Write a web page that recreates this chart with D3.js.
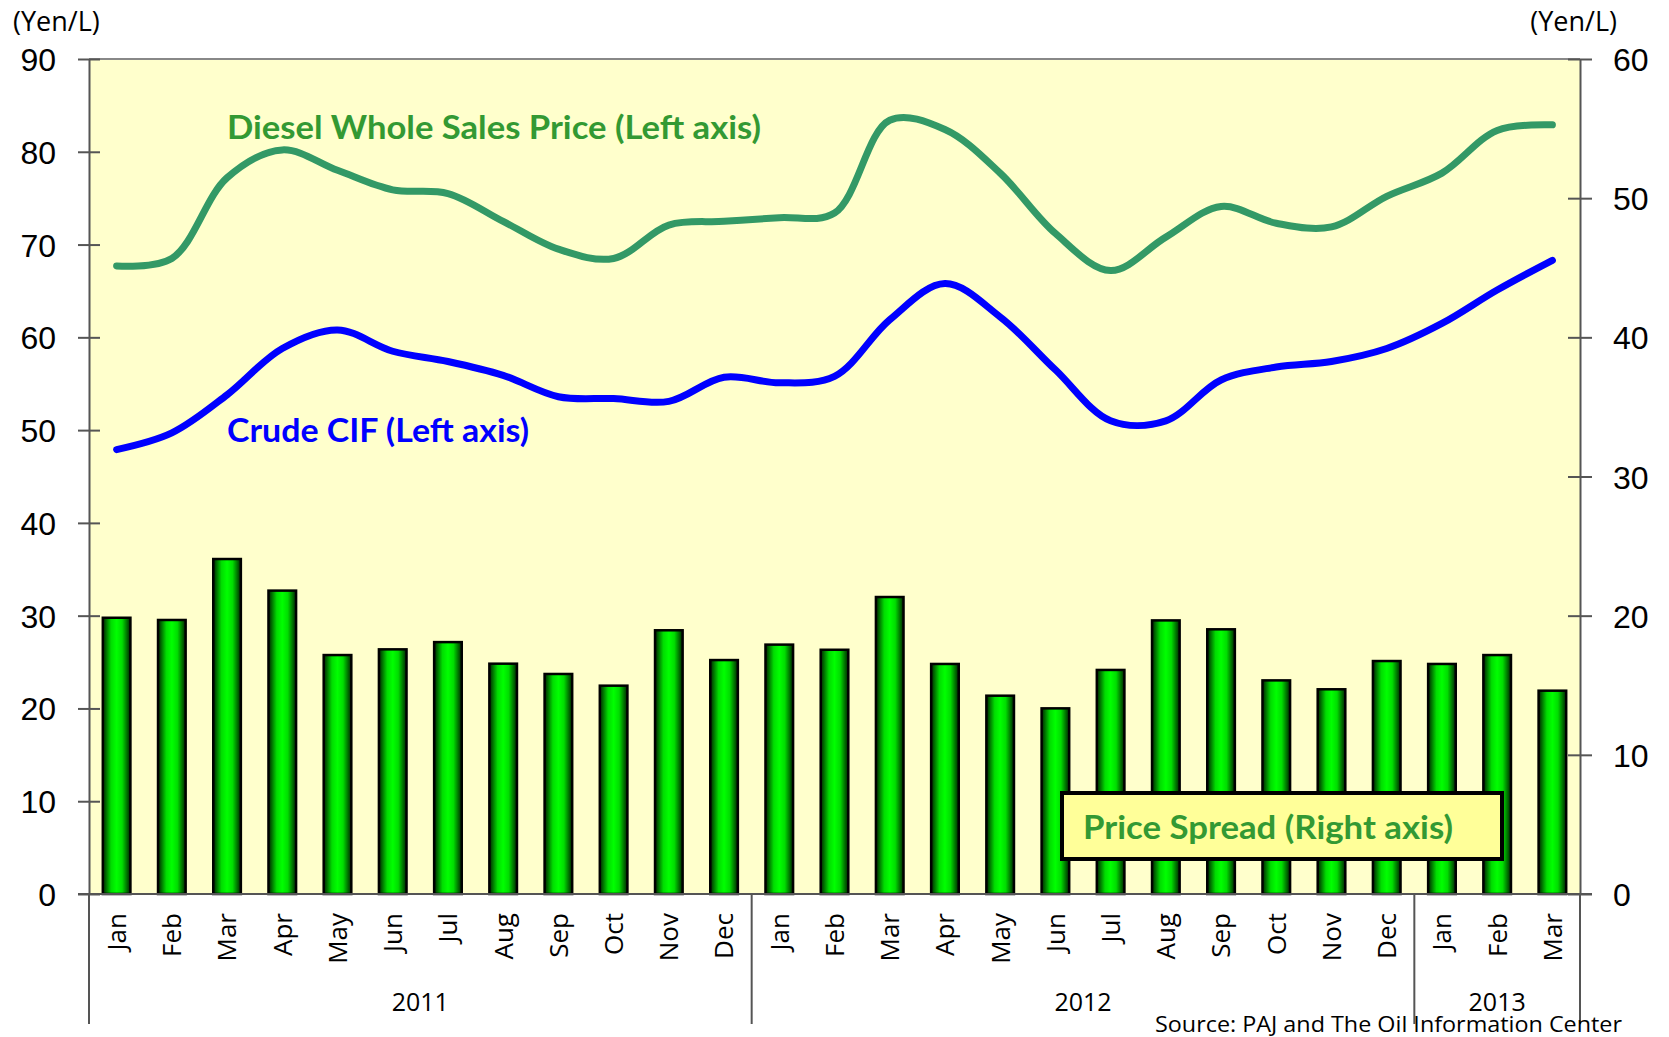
<!DOCTYPE html>
<html>
<head>
    <script src="https://d3js.org/d3.v7.min.js"></script>
    <style>
        body { margin: 0; background: #fff; }
        svg { display: block; }
        .tick text { font-family: "Liberation Sans", Arial, sans-serif; font-size: 32px; fill: #000; }
        .domain, .tick line { stroke: #555; stroke-width: 2px; }
        .unit { font-family: "Open Sans", sans-serif; font-size: 27px; fill: #000; }
        .month { font-family: "Open Sans", sans-serif; font-size: 26px; fill: #000; }
        .year { font-family: "Open Sans", sans-serif; font-size: 25px; fill: #000; }
        .note { font-family: Lato, sans-serif; font-size: 32px; font-weight: bold; }
    </style>
</head>
<body>
    <svg></svg>
    <script>
        // data
        const months = ["Jan", "Feb", "Mar", "Apr", "May", "Jun", "Jul", "Aug", "Sep", "Oct", "Nov", "Dec",
                        "Jan", "Feb", "Mar", "Apr", "May", "Jun", "Jul", "Aug", "Sep", "Oct", "Nov", "Dec",
                        "Jan", "Feb", "Mar"];
        const yearLabels = ["2011", "2012", "2013"];
        const yearMonths = [12, 12, 3];

        const diesel = [67.7, 68.5, 77.2, 80.2, 78.0, 75.9, 75.5, 72.5, 69.5, 68.5, 72.1, 72.5,
                        72.9, 73.4, 83.4, 82.4, 77.7, 71.2, 67.2, 70.8, 74.1, 72.3, 71.9, 75.2,
                        77.7, 82.3, 82.9];
        const crude = [47.9, 49.7, 53.8, 58.8, 60.8, 58.5, 57.4, 55.9, 53.6, 53.4, 53.1, 55.7,
                       55.1, 55.8, 61.9, 65.8, 62.2, 56.5, 51.0, 51.0, 55.4, 56.8, 57.4, 58.8,
                       61.5, 65.1, 68.3];
        const spread = [19.85, 19.69, 24.07, 21.8, 17.17, 17.58, 18.1, 16.55, 15.81, 14.97, 18.95, 16.81,
                        17.92, 17.55, 21.34, 16.53, 14.25, 13.34, 16.1, 19.66, 19.02, 15.35, 14.71, 16.74,
                        16.53, 17.17, 14.61];

        const leftTicks = [0, 10, 20, 30, 40, 50, 60, 70, 80, 90];
        const rightTicks = [0, 10, 20, 30, 40, 50, 60];

        const width = 1669, height = 1037;
        const plot = { left: 89, right: 1580, top: 59, bottom: 894 };

        const svg = d3.select("svg").attr("width", width).attr("height", height);

        const x = d3.scaleBand(d3.range(months.length), [plot.left, plot.right])
            .paddingInner(0.5).paddingOuter(0.25);
        const yL = d3.scaleLinear([0, 90], [plot.bottom, plot.top]);
        const yR = d3.scaleLinear([0, 60], [plot.bottom, plot.top]);
        const cx = i => x(i) + x.bandwidth() / 2;

        // bar gradient
        const grad = svg.append("defs").append("linearGradient").attr("id", "barGrad");
        [[0, "#002200"], [0.3, "#00dd00"], [0.5, "#00ff00"], [0.7, "#00dd00"], [1, "#002200"]]
            .forEach(s => grad.append("stop").attr("offset", s[0]).attr("stop-color", s[1]));

        // plot background
        svg.append("rect")
            .attr("x", plot.left).attr("y", plot.top)
            .attr("width", plot.right - plot.left).attr("height", plot.bottom - plot.top)
            .attr("fill", "#ffffcc");
        svg.append("line")
            .attr("x1", plot.left).attr("x2", plot.right)
            .attr("y1", plot.top).attr("y2", plot.top)
            .attr("stroke", "#888").attr("stroke-width", 2);

        // bars (right axis)
        svg.append("g").selectAll("rect")
            .data(spread)
            .join("rect")
            .attr("x", (d, i) => x(i))
            .attr("y", d => yR(d))
            .attr("width", x.bandwidth())
            .attr("height", d => plot.bottom - yR(d))
            .attr("fill", "url(#barGrad)")
            .attr("stroke", "#000")
            .attr("stroke-width", 2.5);

        // lines (left axis)
        const line = d3.line()
            .x((d, i) => cx(i))
            .y(d => yL(d))
            .curve(d3.curveCatmullRom.alpha(0.5));

        svg.append("path").datum(diesel)
            .attr("d", line)
            .attr("fill", "none").attr("stroke", "#339966")
            .attr("stroke-width", 7).attr("stroke-linecap", "round");
        svg.append("path").datum(crude)
            .attr("d", line)
            .attr("fill", "none").attr("stroke", "#0000ff")
            .attr("stroke-width", 7).attr("stroke-linecap", "round");

        // axes
        const gL = svg.append("g").attr("transform", `translate(${plot.left},0)`)
            .call(d3.axisLeft(yL).tickValues(leftTicks).tickSize(11).tickSizeOuter(0).tickPadding(22));
        gL.selectAll(".tick line").attr("x2", -11).attr("x1", 11);
        gL.selectAll(".tick text").attr("dy", "0.36em");

        const gR = svg.append("g").attr("transform", `translate(${plot.right},0)`)
            .call(d3.axisRight(yR).tickValues(rightTicks).tickSize(12).tickSizeOuter(0).tickPadding(21));
        gR.selectAll(".tick line").attr("x1", -12).attr("x2", 12);
        gR.selectAll(".tick text").attr("dy", "0.36em");

        // bottom axis line
        svg.append("line")
            .attr("x1", plot.left - 11).attr("x2", plot.right + 12)
            .attr("y1", plot.bottom).attr("y2", plot.bottom)
            .attr("stroke", "#555").attr("stroke-width", 2);

        // month labels
        svg.append("g").selectAll("text")
            .data(months)
            .join("text")
            .attr("class", "month")
            .attr("transform", (d, i) => `translate(${cx(i)},913) rotate(-90)`)
            .attr("text-anchor", "end")
            .attr("dy", "0.36em")
            .text(d => d);

        // year groups
        const step = x.step();
        let start = 0;
        const bounds = [0];
        yearMonths.forEach(n => { start += n; bounds.push(start); });
        svg.append("g").selectAll("line")
            .data(bounds)
            .join("line")
            .attr("x1", d => plot.left + d * step).attr("x2", d => plot.left + d * step)
            .attr("y1", plot.bottom).attr("y2", 1024)
            .attr("stroke", "#555").attr("stroke-width", 2);
        svg.append("g").selectAll("text")
            .data(yearLabels)
            .join("text")
            .attr("class", "year")
            .attr("x", (d, i) => plot.left + (bounds[i] + bounds[i + 1]) / 2 * step)
            .attr("y", 1011)
            .attr("text-anchor", "middle")
            .text(d => d);

        // units
        svg.append("text").attr("class", "unit").attr("x", 13).attr("y", 31).text("(Yen/L)");
        svg.append("text").attr("class", "unit").attr("x", 1617).attr("y", 31)
            .attr("text-anchor", "end").text("(Yen/L)");

        // series notes
        svg.append("text").attr("class", "note")
            .attr("x", 227).attr("y", 139)
            .attr("fill", "#339933")
            .attr("textLength", 534).attr("lengthAdjust", "spacingAndGlyphs")
            .text("Diesel Whole Sales Price (Left axis)");
        svg.append("text").attr("class", "note")
            .attr("x", 227).attr("y", 442)
            .attr("fill", "#0000ff")
            .attr("textLength", 302).attr("lengthAdjust", "spacingAndGlyphs")
            .text("Crude CIF (Left axis)");

        svg.append("rect")
            .attr("x", 1062).attr("y", 793).attr("width", 440).attr("height", 66)
            .attr("fill", "#ffff99").attr("stroke", "#000").attr("stroke-width", 4);
        svg.append("text").attr("class", "note")
            .attr("x", 1083).attr("y", 839)
            .attr("fill", "#339933")
            .attr("textLength", 370).attr("lengthAdjust", "spacingAndGlyphs")
            .text("Price Spread (Right axis)");

        // source
        svg.append("text")
            .attr("x", 1622).attr("y", 1032)
            .attr("text-anchor", "end")
            .style("font-family", "'Open Sans', sans-serif")
            .style("font-size", "22px")
            .attr("textLength", 467).attr("lengthAdjust", "spacingAndGlyphs")
            .text("Source: PAJ and The Oil Information Center");
    </script>
</body>
</html>
